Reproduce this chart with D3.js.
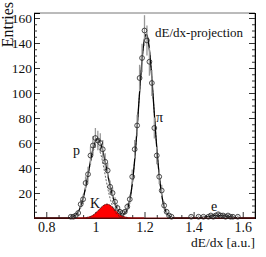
<!DOCTYPE html>
<html>
<head>
<meta charset="utf-8">
<script src="https://cdn.jsdelivr.net/npm/d3@7"></script>
<style>
  body { margin: 0; background: #fff; }
  svg { display: block; }
  svg text { font-family: "Liberation Serif", "DejaVu Serif", serif; }
</style>
</head>
<body>
<div id="viz"></div>
<script>
// histogram points (bin centre, entries)
const binX = [0.90, 0.91, 0.92, 0.93, 0.94, 0.95, 0.96, 0.97, 0.98, 0.99, 1.00, 1.01, 1.02, 1.03, 1.04,
  1.05, 1.06, 1.07, 1.08, 1.09, 1.10, 1.11, 1.12, 1.13, 1.14, 1.15, 1.16, 1.17, 1.18, 1.19, 1.20,
  1.21, 1.22, 1.23, 1.24, 1.25, 1.26, 1.27, 1.28, 1.29, 1.30, 1.31,
  1.39, 1.42, 1.44, 1.46, 1.47, 1.48, 1.49, 1.50, 1.51, 1.52, 1.53, 1.54, 1.55, 1.56, 1.58];
const binY = [1, 1, 2, 4, 11, 15, 28, 35, 50, 58, 64, 62, 60, 55, 45,
  38, 25, 20, 13, 8, 5, 4, 5, 9, 15, 33, 55, 74, 112, 128, 150,
  142, 125, 108, 72, 50, 33, 22, 10, 5, 2, 1,
  1, 1, 1, 1, 2, 1, 2, 3, 2, 2, 1, 2, 1, 1, 1];

// fitted gaussian components
const species = ['p', 'K', 'pi', 'e'];
const amps = [58, 11, 147, 2];
const means = [1.005, 1.047, 1.207, 1.50];
const sigmas = [0.034, 0.032, 0.031, 0.04];

const xTicks = [0.8, 1.0, 1.2, 1.4, 1.6];
const yTicks = [20, 40, 60, 80, 100, 120, 140, 160];

const W = 266, H = 257;
const L = 34, R = 255, T = 13, B = 218;

const x = d3.scaleLinear().domain([0.75, 1.65]).range([L, R]);
const y = d3.scaleLinear().domain([0, 164]).range([B, T]);

const gauss = (i, v) => amps[i] * Math.exp(-Math.pow(v - means[i], 2) / (2 * sigmas[i] * sigmas[i]));
const grid = d3.range(0.75, 1.6501, 0.002);

const svg = d3.select('#viz').append('svg').attr('width', W).attr('height', H);

// frame top / right
svg.append('path')
  .attr('d', `M${L},${T}H${R}V${B}`)
  .attr('fill', 'none').attr('stroke', '#777').attr('stroke-width', 1);

// axes
const minorY = d3.range(5, 165, 5).filter(v => v % 20);
const yAxis = svg.append('g').attr('transform', `translate(${L},0)`)
  .call(d3.axisLeft(y).tickValues(yTicks).tickSize(-6).tickPadding(2).tickFormat(d3.format('d')));
svg.append('g').attr('transform', `translate(${L},0)`)
  .call(d3.axisLeft(y).tickValues(minorY).tickSize(-3).tickFormat(''));
svg.append('g').attr('transform', `translate(${R},0)`)
  .call(d3.axisRight(y).tickValues(yTicks).tickSize(-6).tickFormat(''));
svg.append('g').attr('transform', `translate(${R},0)`)
  .call(d3.axisRight(y).tickValues(minorY).tickSize(-3).tickFormat(''));

const xAxis = svg.append('g').attr('transform', `translate(0,${B})`)
  .call(d3.axisBottom(x).tickValues(xTicks).tickSize(-6).tickPadding(4).tickFormat(d => d === 1 ? '1' : d3.format('.1f')(d)));
svg.append('g').attr('transform', `translate(0,${B})`)
  .call(d3.axisBottom(x).tickValues([0.85, 0.9, 0.95, 1.05, 1.1, 1.15, 1.25, 1.3, 1.35, 1.45, 1.5, 1.55]).tickSize(-3).tickFormat(''));

svg.selectAll('.domain').attr('stroke', '#000');
svg.selectAll('.tick line').attr('stroke', '#333');
yAxis.selectAll('.tick text')
  .style('font-family', '"Liberation Serif", serif').style('font-size', '13.5px').attr('fill', '#111');
xAxis.selectAll('.tick text')
  .style('font-family', '"Liberation Serif", serif').style('font-size', '14px').attr('fill', '#111');

// red kaon fill
const area = d3.area().x(d => x(d)).y0(y(0)).y1(d => y(gauss(1, d)));
svg.append('path').datum(grid.filter(v => v > 0.9 && v < 1.2))
  .attr('d', area).attr('fill', '#f00').attr('stroke', '#b00000').attr('stroke-width', 0.8);

// dashed components
const line = d3.line().x(d => x(d[0])).y(d => y(d[1]));
[0, 1, 2].forEach(i => {
  svg.append('path')
    .datum(grid.map(v => [v, gauss(i, v)]).filter(d => d[1] > 0.3))
    .attr('d', line).attr('fill', 'none').attr('stroke', '#222')
    .attr('stroke-width', 0.7).attr('stroke-dasharray', '2,1.5');
});

// total fit
svg.append('path')
  .datum(grid.map(v => [v, d3.sum(species, (s, i) => gauss(i, v))]))
  .attr('d', line).attr('fill', 'none').attr('stroke', '#000').attr('stroke-width', 1.3);

// baseline
svg.append('line').attr('x1', L).attr('x2', R).attr('y1', B).attr('y2', B)
  .attr('stroke', '#7a1010').attr('stroke-width', 1.2);

// points with error bars
const pts = binX.map((v, i) => [v, binY[i]]);
svg.append('g').selectAll('line').data(pts).enter().append('line')
  .attr('x1', d => x(d[0])).attr('x2', d => x(d[0]))
  .attr('y1', d => y(d[1] + Math.sqrt(d[1]))).attr('y2', d => y(Math.max(0, d[1] - Math.sqrt(d[1]))))
  .attr('stroke', '#999').attr('stroke-width', 1.3);
svg.append('g').selectAll('circle').data(pts).enter().append('circle')
  .attr('cx', d => x(d[0])).attr('cy', d => y(d[1])).attr('r', 2.4)
  .attr('fill', 'none').attr('stroke', '#222').attr('stroke-width', 0.8);

// labels
const lbl = (t, px, py, size, anchor) => svg.append('text').attr('x', px).attr('y', py)
  .style('font-size', size + 'px').attr('text-anchor', anchor || 'start').attr('fill', '#111').text(t);
lbl('dE/dx-projection', 155, 37, 13);
lbl('π', 156, 122, 14);
lbl('p', 73, 155, 14);
lbl('K', 90, 208, 14);
lbl('e', 211, 211, 14);
lbl('dE/dx [a.u.]', 255, 247, 13.5, 'end');

svg.append('text').attr('transform', 'translate(13,2) rotate(-90)')
  .attr('text-anchor', 'end').style('font-size', '16px').attr('fill', '#111').text('Entries');
</script>
</body>
</html>
